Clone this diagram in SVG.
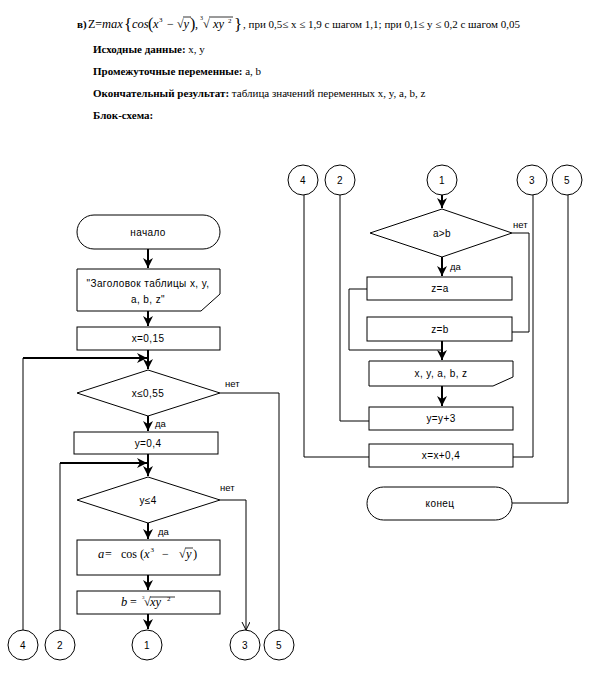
<svg xmlns="http://www.w3.org/2000/svg" width="590" height="682" viewBox="0 0 590 682">
<style>
.bg{fill:#fff}
.sh{fill:#fff;stroke:#000;stroke-width:1}
.t{font-family:"Liberation Sans",Arial,sans-serif;font-size:10px;letter-spacing:0.4px;fill:#000;text-anchor:middle}
.lab{font-family:"Liberation Sans",Arial,sans-serif;font-size:9.5px;fill:#000}
.doc{font-family:"Liberation Serif","Times New Roman",serif;font-size:11px;fill:#000}
.b{font-weight:bold}
.m{font-family:"Liberation Serif","Times New Roman",serif;fill:#000}
.i{font-style:italic}
.thin{fill:none;stroke:#000;stroke-width:1}
.thick{fill:none;stroke:#000;stroke-width:2}
.ov{stroke:#000;stroke-width:0.8}
</style>
<defs>
<marker id="ah" markerUnits="userSpaceOnUse" markerWidth="12" markerHeight="12" refX="10" refY="5" orient="auto">
<path d="M0,0 L10,5 L0,10 L3,5 z" fill="#000"/>
</marker>
<marker id="ahThin" markerUnits="userSpaceOnUse" markerWidth="10" markerHeight="10" refX="8" refY="4" orient="auto">
<path d="M0,0 L8,4 L0,8" fill="none" stroke="#000" stroke-width="1"/>
</marker>
</defs>
<rect class="bg" x="0" y="0" width="590" height="682"/>

<g id="header">
<text class="doc" y="28"><tspan x="77" class="b">в)</tspan><tspan x="88" font-size="12">Z=</tspan></text>
<text class="m i" x="102" y="28" font-size="12.5">max</text>
<text class="m" x="124" y="30" font-size="17">{</text>
<text class="m i" x="132" y="28" font-size="12.5">cos</text>
<text class="m" x="148" y="29" font-size="16">(</text>
<text class="m i" x="153" y="28" font-size="12.5">x</text>
<text class="m" x="159" y="22" font-size="7">3</text>
<text class="m" x="167" y="28" font-size="12">−</text>
<text class="m" x="177" y="28" font-size="12">√</text>
<line class="ov" x1="183" y1="17" x2="191" y2="17"/>
<text class="m i" x="183.5" y="28" font-size="12.5">y</text>
<text class="m" x="190" y="29" font-size="16">)</text>
<text class="m" x="195" y="28" font-size="12">,</text>
<text class="m" x="200" y="20" font-size="6">3</text>
<text class="m" x="203" y="28" font-size="12">√</text>
<line class="ov" x1="209" y1="17" x2="233" y2="17"/>
<text class="m i" x="213" y="28" font-size="12.5">xy</text>
<text class="m" x="228" y="23" font-size="7">2</text>
<text class="m" x="234" y="30" font-size="17">}</text>
<text class="doc" x="243" y="28">, при 0,5≤ x ≤ 1,9 с шагом 1,1; при 0,1≤ y ≤ 0,2 с шагом 0,05</text>
<text class="doc" x="93" y="53"><tspan class="b">Исходные данные:</tspan> x, y</text>
<text class="doc" x="93" y="75"><tspan class="b">Промежуточные переменные:</tspan> a, b</text>
<text class="doc" x="93" y="97"><tspan class="b">Окончательный результат:</tspan> таблица значений переменных x, y, a, b, z</text>
<text class="doc b" x="93" y="119">Блок-схема:</text>
</g>

<g id="connectors">
<!-- left -->
<path class="thick" d="M148,249 V268" marker-end="url(#ah)"/>
<path class="thick" d="M148,311 V326" marker-end="url(#ah)"/>
<path class="thick" d="M148,350 V369" marker-end="url(#ah)"/>
<path class="thin" d="M23,630 V358"/>
<path class="thick" d="M23,358 H147" marker-end="url(#ah)"/>
<path class="thin" d="M220,393 H279 V630"/>
<path class="thick" d="M148,416 V431" marker-end="url(#ah)"/>
<path class="thick" d="M148,454 V476" marker-end="url(#ah)"/>
<path class="thin" d="M60,630 V463"/>
<path class="thick" d="M60,463 H147" marker-end="url(#ah)"/>
<path class="thin" d="M220,500 H246 V630" marker-end="url(#ahThin)"/>
<path class="thick" d="M148,523 V539" marker-end="url(#ah)"/>
<path class="thick" d="M148,575 V590" marker-end="url(#ah)"/>
<path class="thick" d="M148,614 V629" marker-end="url(#ah)"/>
<!-- right -->
<path class="thick" d="M442,195 V208" marker-end="url(#ah)"/>
<path class="thin" d="M512,233 H529 V332 H512"/>
<path class="thick" d="M442,257 V276" marker-end="url(#ah)"/>
<path class="thin" d="M367,289 H349 V350 H442"/>
<path class="thick" d="M442,341 V360" marker-end="url(#ah)"/>
<path class="thick" d="M442,386 V406" marker-end="url(#ah)"/>
<path class="thin" d="M340,195 V421 H369"/>
<path class="thin" d="M304,195 V457 H369"/>
<path class="thin" d="M533,195 V457 H513"/>
<path class="thin" d="M568,195 V503 H512"/>
<text class="lab" x="225" y="387">нет</text>
<text class="lab" x="155" y="427">да</text>
<text class="lab" x="220" y="491">нет</text>
<text class="lab" x="158" y="535">да</text>
<text class="lab" x="513" y="228">нет</text>
<text class="lab" x="450" y="270">да</text>
</g>

<g id="start">
<rect class="sh" x="77" y="215" width="143" height="34" rx="17"/>
<text class="t" x="148" y="236">начало</text>
</g>
<g id="header-out">
<path class="sh" d="M77,269 H220 V294 L201,311 H77 z"/>
<text class="t" x="148" y="287">"Заголовок таблицы x, y,</text>
<text class="t" x="148" y="303">a, b, z"</text>
</g>
<g id="x-init">
<rect class="sh" x="77" y="327" width="143" height="23"/>
<text class="t" x="148" y="342">x=0,15</text>
</g>
<g id="cond-x">
<path class="sh" d="M77,393 L148,370 L220,393 L148,416 z"/>
<text class="t" x="148" y="397">x≤0,55</text>
</g>
<g id="y-init">
<rect class="sh" x="74" y="432" width="144" height="22"/>
<text class="t" x="148" y="447">y=0,4</text>
</g>
<g id="cond-y">
<path class="sh" d="M77,500 L148,477 L220,500 L148,523 z"/>
<text class="t" x="148" y="504">y≤4</text>
</g>
<g id="calc-a">
<rect class="sh" x="77" y="540" width="143" height="35"/>
<text class="m i" x="98" y="558" font-size="12.5">a</text>
<text class="m" x="105" y="558" font-size="12">=</text>
<text class="m" x="121" y="558" font-size="12">cos</text>
<text class="m" x="140" y="558" font-size="12.5">(</text>
<text class="m i" x="144" y="558" font-size="12.5">x</text>
<text class="m" x="150.5" y="552" font-size="7">3</text>
<text class="m" x="162" y="558" font-size="12">−</text>
<text class="m" x="179" y="558" font-size="12">√</text>
<line class="ov" x1="185" y1="548" x2="193" y2="548"/>
<text class="m i" x="186" y="558" font-size="12.5">y</text>
<text class="m" x="193" y="558" font-size="12.5">)</text>
</g>
<g id="calc-b">
<rect class="sh" x="77" y="591" width="143" height="23"/>
<text class="m i" x="121" y="606" font-size="12.5">b</text>
<text class="m" x="130" y="606" font-size="12">=</text>
<text class="m" x="142" y="599" font-size="5">3</text>
<text class="m" x="144" y="606" font-size="12">√</text>
<line class="ov" x1="150" y1="597" x2="175" y2="597"/>
<text class="m i" x="150" y="606" font-size="12.5">xy</text>
<text class="m" x="167" y="601" font-size="7">2</text>
</g>
<g id="c4-left"><circle class="sh" cx="23" cy="645" r="15"/><text class="t" x="23" y="649">4</text></g>
<g id="c2-left"><circle class="sh" cx="60" cy="645" r="15"/><text class="t" x="60" y="649">2</text></g>
<g id="c1-left"><circle class="sh" cx="147" cy="645" r="15"/><text class="t" x="147" y="649">1</text></g>
<g id="c3-left"><circle class="sh" cx="245" cy="645" r="15"/><text class="t" x="245" y="649">3</text></g>
<g id="c5-left"><circle class="sh" cx="279" cy="645" r="15"/><text class="t" x="279" y="649">5</text></g>

<g id="c4-right"><circle class="sh" cx="303" cy="180" r="15"/><text class="t" x="303" y="184">4</text></g>
<g id="c2-right"><circle class="sh" cx="340" cy="180" r="15"/><text class="t" x="340" y="184">2</text></g>
<g id="c1-right"><circle class="sh" cx="442" cy="180" r="15"/><text class="t" x="442" y="184">1</text></g>
<g id="c3-right"><circle class="sh" cx="532" cy="180" r="15"/><text class="t" x="532" y="184">3</text></g>
<g id="c5-right"><circle class="sh" cx="567" cy="180" r="15"/><text class="t" x="567" y="184">5</text></g>
<g id="cond-ab">
<path class="sh" d="M370,233 L442,209 L512,233 L442,257 z"/>
<text class="t" x="442" y="237">a&gt;b</text>
</g>
<g id="z-a">
<rect class="sh" x="367" y="277" width="145" height="23"/>
<text class="t" x="440" y="292">z=a</text>
</g>
<g id="z-b">
<rect class="sh" x="367" y="317" width="145" height="24"/>
<text class="t" x="440" y="333">z=b</text>
</g>
<g id="out-row">
<path class="sh" d="M369,361 H513 V377 L493,386 H369 z"/>
<text class="t" x="441" y="377">x, y, a, b, z</text>
</g>
<g id="y-inc">
<rect class="sh" x="369" y="407" width="144" height="23"/>
<text class="t" x="441" y="422">y=y+3</text>
</g>
<g id="x-inc">
<rect class="sh" x="369" y="444" width="144" height="23"/>
<text class="t" x="441" y="459">x=x+0,4</text>
</g>
<g id="end">
<rect class="sh" x="367" y="487" width="145" height="33" rx="16.5"/>
<text class="t" x="440" y="507">конец</text>
</g>
</svg>
